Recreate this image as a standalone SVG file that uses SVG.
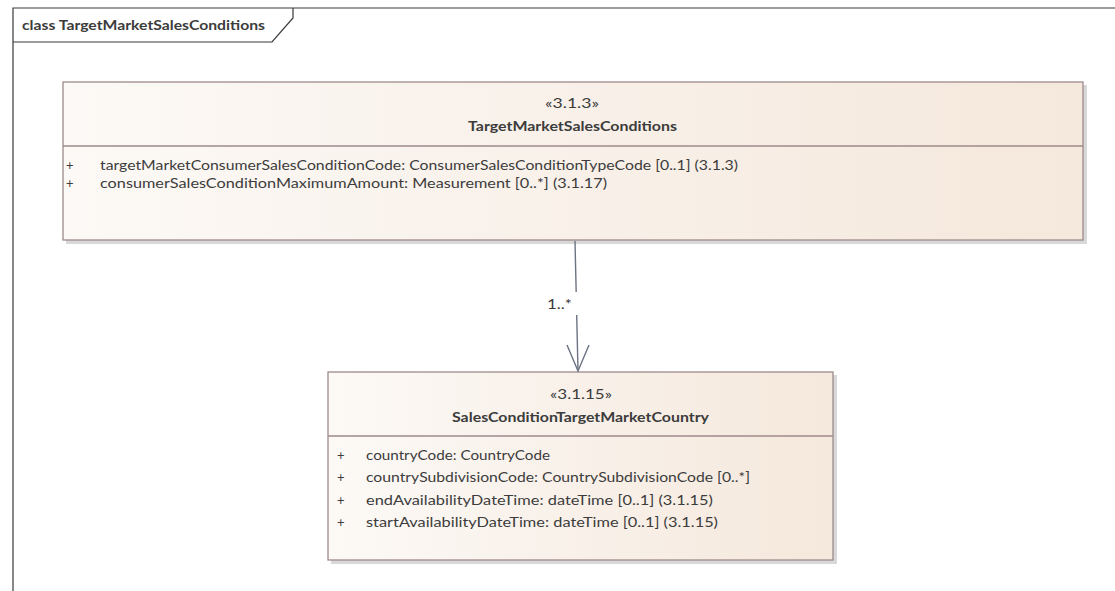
<svg xmlns="http://www.w3.org/2000/svg" width="1115" height="591" viewBox="0 0 1115 591">
<defs>
<linearGradient id="fill" x1="0" y1="0" x2="1" y2="0">
<stop offset="0" stop-color="#fcf9f6"/>
<stop offset="1" stop-color="#f5e8dc"/>
</linearGradient>
</defs>
<style>
.frame{fill:none;stroke:#3a3a3a;stroke-width:1.2}
.box{fill:url(#fill);stroke:#9e8a8a;stroke-width:1.3}
.shadow{fill:#d8d8d8}
.sep{stroke:#9e8a8a;stroke-width:1.3}
text{font-family:"Lato","Liberation Sans",sans-serif;fill:#3c3c3c;font-size:13px}
.b{font-weight:bold}
.c{text-anchor:middle}
.conn{fill:none;stroke:#6b7282;stroke-width:1.4}
</style>
<g id="frame">
<path class="frame" d="M13,591 V8 H1115"/>
<path class="frame" d="M13,42 H272 L293,18 V8"/>
<text class="b" x="22" y="30" textLength="243" lengthAdjust="spacingAndGlyphs">class TargetMarketSalesConditions</text>
</g>
<g id="TargetMarketSalesConditions">
<rect class="shadow" x="66" y="85" width="1021" height="159"/>
<rect class="box" x="63" y="82" width="1020" height="158"/>
<line class="sep" x1="63" y1="146" x2="1083" y2="146"/>
<text class="c" x="572" y="108" textLength="54" lengthAdjust="spacingAndGlyphs">«3.1.3»</text>
<text class="c b" x="572.5" y="131" textLength="209" lengthAdjust="spacingAndGlyphs">TargetMarketSalesConditions</text>
<text x="66" y="170">+</text>
<text x="100" y="170" textLength="638" lengthAdjust="spacingAndGlyphs">targetMarketConsumerSalesConditionCode: ConsumerSalesConditionTypeCode [0..1] (3.1.3)</text>
<text x="66" y="188">+</text>
<text x="100" y="188" textLength="507" lengthAdjust="spacingAndGlyphs">consumerSalesConditionMaximumAmount: Measurement [0..*] (3.1.17)</text>
</g>
<g id="SalesConditionTargetMarketCountry">
<rect class="shadow" x="331" y="375" width="506" height="189"/>
<rect class="box" x="328" y="372" width="505" height="188"/>
<line class="sep" x1="328" y1="436" x2="833" y2="436"/>
<text class="c" x="581" y="399" textLength="62" lengthAdjust="spacingAndGlyphs">«3.1.15»</text>
<text class="c b" x="580.5" y="422" textLength="257" lengthAdjust="spacingAndGlyphs">SalesConditionTargetMarketCountry</text>
<text x="337" y="460">+</text>
<text x="366" y="460" textLength="184" lengthAdjust="spacingAndGlyphs">countryCode: CountryCode</text>
<text x="337" y="482">+</text>
<text x="366" y="482" textLength="384" lengthAdjust="spacingAndGlyphs">countrySubdivisionCode: CountrySubdivisionCode [0..*]</text>
<text x="337" y="505">+</text>
<text x="366" y="505" textLength="347" lengthAdjust="spacingAndGlyphs">endAvailabilityDateTime: dateTime [0..1] (3.1.15)</text>
<text x="337" y="527">+</text>
<text x="366" y="527" textLength="352" lengthAdjust="spacingAndGlyphs">startAvailabilityDateTime: dateTime [0..1] (3.1.15)</text>
</g>
<g id="connectors">
<path class="conn" d="M575,241 L578,371"/>
<path class="conn" d="M567,345 L578,371 L589,345"/>
<rect x="545" y="292" width="36" height="23" fill="#ffffff"/>
<text x="547" y="309" font-size="12" textLength="25" lengthAdjust="spacingAndGlyphs">1..*</text>
</g>
</svg>
